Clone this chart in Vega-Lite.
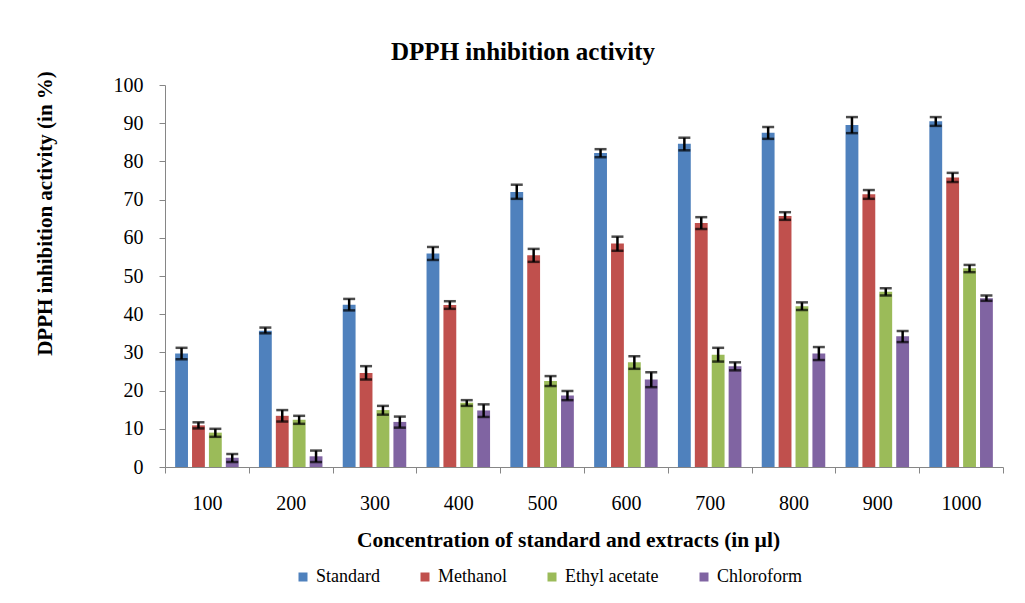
{
  "$schema": "https://vega.github.io/schema/vega-lite/v6.json",
  "autosize": "none",
  "width": 838,
  "height": 382,
  "padding": {"left": 165, "top": 85, "right": 22, "bottom": 136},
  "background": "white",
  "config": {
    "font": "Liberation Serif",
    "view": {"stroke": null},
    "axis": {"grid": false, "domainColor": "#868686", "tickColor": "#868686", "labelColor": "black", "titleColor": "black", "labelFont": "Liberation Serif", "titleFont": "Liberation Serif"},
    "legend": {"labelFont": "Liberation Serif", "titleFont": "Liberation Serif"}
  },
  "title": {
    "text": "DPPH inhibition activity",
    "font": "Liberation Serif",
    "fontSize": 25,
    "fontWeight": "bold",
    "color": "black",
    "anchor": "middle",
    "frame": "group",
    "dx": -61,
    "baseline": "alphabetic",
    "offset": -14
  },
  "data": {
    "values": [
      {"c": "100", "s": "Standard", "v": 29.7, "lo": 28.2, "hi": 31.2},
      {"c": "100", "s": "Methanol", "v": 10.9, "lo": 10.1, "hi": 11.7},
      {"c": "100", "s": "Ethyl acetate", "v": 9.0, "lo": 7.9, "hi": 10.0},
      {"c": "100", "s": "Chloroform", "v": 2.4, "lo": 1.3, "hi": 3.4},
      {"c": "200", "s": "Standard", "v": 35.7, "lo": 35.0, "hi": 36.5},
      {"c": "200", "s": "Methanol", "v": 13.4, "lo": 11.9, "hi": 14.9},
      {"c": "200", "s": "Ethyl acetate", "v": 12.4, "lo": 11.3, "hi": 13.4},
      {"c": "200", "s": "Chloroform", "v": 2.8, "lo": 1.3, "hi": 4.3},
      {"c": "300", "s": "Standard", "v": 42.5, "lo": 41.0, "hi": 44.0},
      {"c": "300", "s": "Methanol", "v": 24.6, "lo": 22.9, "hi": 26.4},
      {"c": "300", "s": "Ethyl acetate", "v": 14.9, "lo": 13.7, "hi": 16.0},
      {"c": "300", "s": "Chloroform", "v": 11.8, "lo": 10.3, "hi": 13.2},
      {"c": "400", "s": "Standard", "v": 55.9, "lo": 54.2, "hi": 57.6},
      {"c": "400", "s": "Methanol", "v": 42.4, "lo": 41.4, "hi": 43.4},
      {"c": "400", "s": "Ethyl acetate", "v": 16.8, "lo": 16.0, "hi": 17.5},
      {"c": "400", "s": "Chloroform", "v": 14.8, "lo": 13.1, "hi": 16.4},
      {"c": "500", "s": "Standard", "v": 72.0, "lo": 70.2, "hi": 73.9},
      {"c": "500", "s": "Methanol", "v": 55.4, "lo": 53.7, "hi": 57.1},
      {"c": "500", "s": "Ethyl acetate", "v": 22.5, "lo": 21.2, "hi": 23.8},
      {"c": "500", "s": "Chloroform", "v": 18.7, "lo": 17.5, "hi": 19.9},
      {"c": "600", "s": "Standard", "v": 82.2, "lo": 81.1, "hi": 83.2},
      {"c": "600", "s": "Methanol", "v": 58.5, "lo": 56.6, "hi": 60.3},
      {"c": "600", "s": "Ethyl acetate", "v": 27.4, "lo": 25.7, "hi": 29.0},
      {"c": "600", "s": "Chloroform", "v": 22.9, "lo": 20.9, "hi": 24.8},
      {"c": "700", "s": "Standard", "v": 84.6, "lo": 82.9, "hi": 86.2},
      {"c": "700", "s": "Methanol", "v": 63.9, "lo": 62.3, "hi": 65.4},
      {"c": "700", "s": "Ethyl acetate", "v": 29.4, "lo": 27.6, "hi": 31.2},
      {"c": "700", "s": "Chloroform", "v": 26.4, "lo": 25.3, "hi": 27.4},
      {"c": "800", "s": "Standard", "v": 87.5, "lo": 85.9, "hi": 89.0},
      {"c": "800", "s": "Methanol", "v": 65.7, "lo": 64.7, "hi": 66.7},
      {"c": "800", "s": "Ethyl acetate", "v": 42.1, "lo": 41.1, "hi": 43.1},
      {"c": "800", "s": "Chloroform", "v": 29.7, "lo": 28.0, "hi": 31.4},
      {"c": "900", "s": "Standard", "v": 89.5, "lo": 87.4, "hi": 91.6},
      {"c": "900", "s": "Methanol", "v": 71.4, "lo": 70.2, "hi": 72.5},
      {"c": "900", "s": "Ethyl acetate", "v": 45.9, "lo": 44.9, "hi": 46.8},
      {"c": "900", "s": "Chloroform", "v": 34.2, "lo": 32.7, "hi": 35.6},
      {"c": "1000", "s": "Standard", "v": 90.5, "lo": 89.3, "hi": 91.6},
      {"c": "1000", "s": "Methanol", "v": 75.8, "lo": 74.6, "hi": 77.0},
      {"c": "1000", "s": "Ethyl acetate", "v": 52.0, "lo": 51.0, "hi": 52.9},
      {"c": "1000", "s": "Chloroform", "v": 44.2, "lo": 43.5, "hi": 44.9}
    ]
  },
  "encoding": {
    "x": {
      "field": "c",
      "type": "ordinal",
      "sort": ["100", "200", "300", "400", "500", "600", "700", "800", "900", "1000"],
      "scale": {"paddingInner": 0, "paddingOuter": 0},
      "axis": {
        "title": "Concentration of standard and extracts (in µl)",
        "labelAngle": 0,
        "labelFontSize": 20,
        "labelPadding": 20,
        "tickBand": "extent",
        "tickSize": 6,
        "titleFontSize": 21.5,
        "titleFontWeight": "bold",
        "titleX": 403,
        "titleY": 73,
        "titleAlign": "center",
        "titleBaseline": "middle"
      }
    },
    "xOffset": {
      "field": "s",
      "type": "nominal",
      "sort": ["Standard", "Methanol", "Ethyl acetate", "Chloroform"],
      "scale": {"paddingInner": 0.24, "paddingOuter": 0.6}
    }
  },
  "layer": [
    {
      "mark": {"type": "bar"},
      "encoding": {
        "y": {
          "field": "v",
          "type": "quantitative",
          "scale": {"domain": [0, 100], "nice": false},
          "axis": {
            "title": "DPPH inhibition activity (in %)",
            "values": [0, 10, 20, 30, 40, 50, 60, 70, 80, 90, 100],
            "labelOverlap": false,
            "labelFontSize": 20,
            "labelPadding": 16,
            "tickSize": 6,
            "titleFontSize": 21,
            "titleFontWeight": "bold",
            "titleAngle": -90,
            "titleX": -120,
            "titleY": 128,
            "titleAlign": "center",
            "titleBaseline": "middle"
          }
        },
        "color": {
          "field": "s",
          "type": "nominal",
          "sort": ["Standard", "Methanol", "Ethyl acetate", "Chloroform"],
          "scale": {"domain": ["Standard", "Methanol", "Ethyl acetate", "Chloroform"], "range": ["#4F81BD", "#C0504D", "#9BBB59", "#8064A2"]},
          "legend": {
            "title": null,
            "orient": "none",
            "direction": "horizontal",
            "legendX": 129,
            "legendY": 483,
            "padding": 0,
            "symbolType": "square",
            "symbolSize": 81,
            "symbolStrokeWidth": 0,
            "labelFont": "Liberation Serif",
            "labelFontSize": 18,
            "labelOffset": 4,
            "columnPadding": 36,
            "labelColor": "black",
            "labelLimit": 300
          }
        }
      }
    },
    {
      "mark": {"type": "rule", "color": "black", "strokeWidth": 2.5},
      "encoding": {
        "y": {
          "field": "lo",
          "type": "quantitative",
          "scale": {"domain": [0, 100], "nice": false},
          "axis": {
            "title": "DPPH inhibition activity (in %)",
            "values": [0, 10, 20, 30, 40, 50, 60, 70, 80, 90, 100],
            "labelOverlap": false,
            "labelFontSize": 20,
            "labelPadding": 16,
            "tickSize": 6,
            "titleFontSize": 21,
            "titleFontWeight": "bold",
            "titleAngle": -90,
            "titleX": -120,
            "titleY": 128,
            "titleAlign": "center",
            "titleBaseline": "middle"
          }
        },
        "y2": {"field": "hi"}
      }
    },
    {
      "mark": {"type": "tick", "color": "black", "thickness": 2.5, "size": 12, "orient": "horizontal"},
      "encoding": {
        "y": {
          "field": "lo",
          "type": "quantitative",
          "scale": {"domain": [0, 100], "nice": false},
          "axis": {
            "title": "DPPH inhibition activity (in %)",
            "values": [0, 10, 20, 30, 40, 50, 60, 70, 80, 90, 100],
            "labelOverlap": false,
            "labelFontSize": 20,
            "labelPadding": 16,
            "tickSize": 6,
            "titleFontSize": 21,
            "titleFontWeight": "bold",
            "titleAngle": -90,
            "titleX": -120,
            "titleY": 128,
            "titleAlign": "center",
            "titleBaseline": "middle"
          }
        }
      }
    },
    {
      "mark": {"type": "tick", "color": "black", "thickness": 2.5, "size": 12, "orient": "horizontal"},
      "encoding": {
        "y": {
          "field": "hi",
          "type": "quantitative",
          "scale": {"domain": [0, 100], "nice": false},
          "axis": {
            "title": "DPPH inhibition activity (in %)",
            "values": [0, 10, 20, 30, 40, 50, 60, 70, 80, 90, 100],
            "labelOverlap": false,
            "labelFontSize": 20,
            "labelPadding": 16,
            "tickSize": 6,
            "titleFontSize": 21,
            "titleFontWeight": "bold",
            "titleAngle": -90,
            "titleX": -120,
            "titleY": 128,
            "titleAlign": "center",
            "titleBaseline": "middle"
          }
        }
      }
    }
  ]
}
